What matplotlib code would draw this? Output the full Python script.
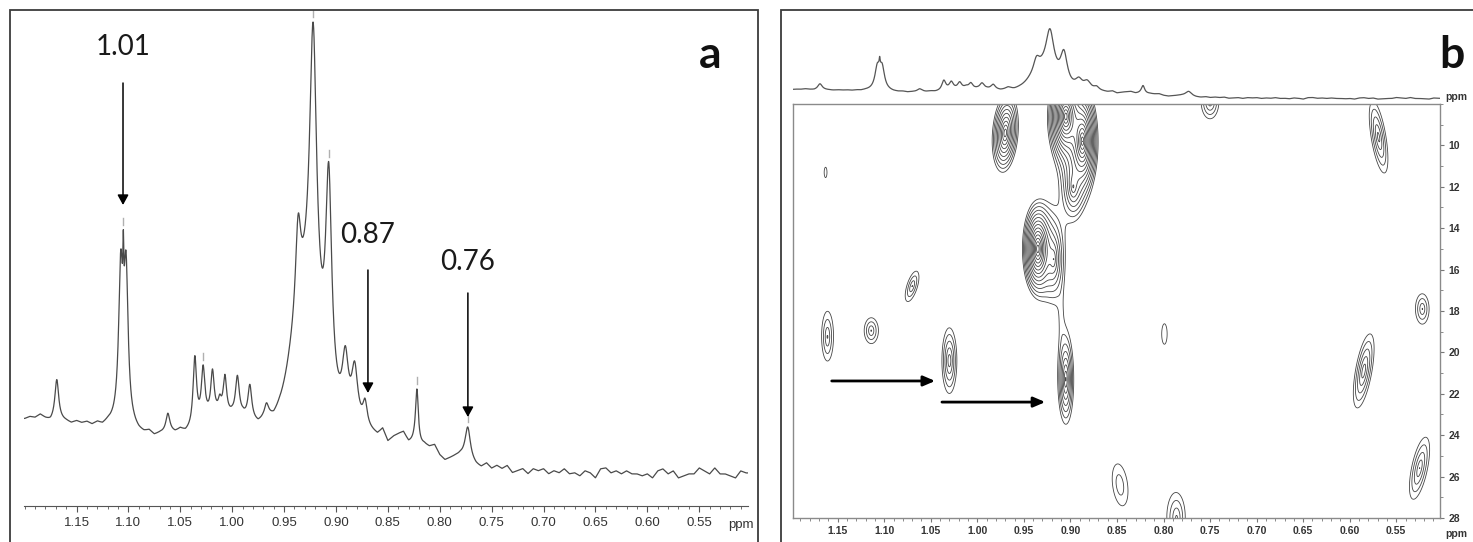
import numpy as np
import matplotlib
matplotlib.use("Agg")
import matplotlib.pyplot as plt
from matplotlib.patches import Rectangle
from matplotlib.ticker import FixedLocator, MultipleLocator

plt.rcParams['font.family'] = ['Liberation Sans', 'DejaVu Sans']

W, H, DPI = 1473, 542, 100

# --- panel a : 1H spectrum ---
# baseline level (px above axis) read every 0.005 ppm, from 1.200 down to 0.505
base_a = [87, 89, 88, 91, 87, 84, 86, 85, 84, 82,
          84, 82, 83, 80, 82, 79, 81, 80, 79, 78,
          77, 75, 72, 71, 73, 69, 71, 72, 73, 72,
          75, 72, 74, 78, 82, 85, 86, 88, 88, 87,
          88, 86, 87, 84, 82, 80, 84, 86, 84, 88,
          90, 92, 92, 92, 91, 90, 90, 88, 86, 84,
          82, 80, 78, 77, 76, 74, 72, 70, 68, 74,
          62, 67, 70, 72, 62, 62, 58, 60, 58, 60,
          50, 45, 47, 49, 50, 48, 44, 40,
          38, 42, 37, 40, 37, 40, 33, 35, 37, 32,
          37, 35, 37, 32, 35, 33, 37, 32, 33, 30,
          35, 33, 28, 37, 38, 33, 35, 32, 35, 32,
          32, 30, 32, 28, 35, 37, 32, 35, 28, 30,
          32, 32, 38, 35, 32, 38, 32, 32, 30, 28,
          35, 33]
base_ppm = 1.200 - 0.005 * np.arange(len(base_a))

# peaks: position (ppm), height, half width (ppm)
pk_ppm = [1.169, 1.1074, 1.1049, 1.1023, 1.062, 1.036, 1.028, 1.019, 1.012, 1.007,
          0.995, 0.983, 0.967, 0.9365, 0.9220, 0.9070, 0.8910, 0.8820, 0.8720, 0.822, 0.773]
pk_amp = [40, 148, 60, 148, 18, 68, 50, 44, 12, 38,
          40, 34, 12, 85, 285, 215, 59, 52, 23, 56, 32]
pk_hw = [0.0022, 0.0024, 0.0005, 0.0024, 0.0022, 0.0020, 0.0020, 0.0020, 0.0018, 0.0020,
         0.0022, 0.0022, 0.0022, 0.0030, 0.0040, 0.0035, 0.0035, 0.0035, 0.0025, 0.0017, 0.0030]
# broad hump below the 0.92 ppm group
hump_ppm, hump_amp, hump_sig = 0.929, 110, 0.012

# peak-pick marks and labelled arrows
pick_ppm = [1.1049, 1.028, 0.922, 0.907, 0.822, 0.773]
arrow_ppm = [1.1052, 0.8692, 0.7729]
arrow_tail = [423, 236, 213]
arrow_tip = [301, 113, 89]
arrow_label = ['1.01', '0.87', '0.76']
label_h = [459, 271, 244]
a_ticks = [1.15, 1.10, 1.05, 1.00, 0.95, 0.90, 0.85, 0.80, 0.75, 0.70, 0.65, 0.60, 0.55]

# --- panel b : HSQC cross peaks (1H ppm, 13C ppm, widths, level, tilt) ---
c_h = [0.970, 0.905, 0.887, 0.897, 0.935, 0.918, 0.910, 0.905, 1.163, 1.070, 1.161,
       1.114, 1.030, 0.847, 0.799, 0.786, 0.585, 0.522, 0.525, 0.750, 0.569]
c_c = [9.4, 8.6, 9.8, 12.0, 15.0, 15.5, 18.3, 21.3, 11.3, 16.8, 19.25,
       18.95, 20.4, 26.4, 19.1, 28.0, 20.9, 17.9, 25.6, 7.9, 9.6]
c_sx = [0.0063, 0.0058, 0.0052, 0.0072, 0.0052, 0.0072, 0.004, 0.0050, 0.0137, 0.0102, 0.0085,
        0.0102, 0.0073, 0.0184, 0.0189, 0.0119, 0.0101, 0.0102, 0.0118, 0.0106, 0.0097]
c_sy = [0.85, 0.70, 0.81, 0.96, 0.72, 1.2, 1.5, 1.28, 2.29, 1.02, 1.6,
        0.85, 1.44, 2.22, 3.2, 1.45, 1.62, 1.02, 1.63, 0.91, 1.67]
c_amp = [9.3, 28, 22, 4, 23, 4, 0.5, 5, 1.1, 2.0, 2.0,
         2.0, 3.0, 1.5, 1.15, 2.0, 3.0, 2.0, 2.5, 2.4, 2.8]
c_rho = [0.2, 0, 0, 0, 0, 0, 0, 0, 0, 0.6, 0,
         0, 0, -0.3, 0, 0, 0.6, 0, 0.6, 0, -0.6]
b_xticks = a_ticks
b_yticks = [10, 12, 14, 16, 18, 20, 22, 24, 26, 28]
b_arrows = [(1.1564, 1.0453, 21.38), (1.038, 0.927, 22.4)]


def fx(px):
    return px / W


def fy(py):
    return 1 - py / H


def spectrum(x, wscale=1.0, ascale=1.0):
    y = np.interp(x, base_ppm[::-1], np.array(base_a, float)[::-1])
    for p, a, w in zip(pk_ppm, pk_amp, pk_hw):
        y += ascale * a / (1 + ((x - p) / (w * wscale)) ** 2)
    y += hump_amp * np.exp(-0.5 * ((x - hump_ppm) / hump_sig) ** 2)
    return y


x_a = np.linspace(1.2006, 0.503, 4000)
spec_a = spectrum(x_a)

fig = plt.figure(figsize=(W / DPI, H / DPI), dpi=DPI)

# panel frames
fig.add_artist(Rectangle((fx(10), -0.1), fx(758) - fx(10), fy(10) + 0.1, fill=False,
                         ec='#3c3c3c', lw=1.3, transform=fig.transFigure))
fig.add_artist(Rectangle((fx(781), -0.1), fx(1490) - fx(781), fy(10) + 0.1, fill=False,
                         ec='#3c3c3c', lw=1.3, transform=fig.transFigure))

ax_a = fig.add_axes([fx(24), fy(506), fx(748) - fx(24), fy(10) - fy(506)])
ax_a.patch.set_alpha(0)
ax_a.plot(x_a, spec_a, color='#4a4a4a', lw=0.9)
for p in pick_ppm:
    v = np.interp(p, x_a[::-1], spec_a[::-1])
    ax_a.plot([p, p], [v + 5, v + 12], color='#b0b0b0', lw=1)
ax_a.set_xlim(1.2006, 0.503)
ax_a.set_ylim(0, 496)
for s in ['top', 'left', 'right']:
    ax_a.spines[s].set_visible(False)
ax_a.spines['bottom'].set_color('#555555')
ax_a.set_yticks([])
ax_a.xaxis.set_major_locator(FixedLocator(a_ticks))
ax_a.xaxis.set_minor_locator(MultipleLocator(0.01))
ax_a.set_xticklabels([f'{t:.2f}' for t in a_ticks])
ax_a.tick_params(axis='x', which='major', direction='out', length=4, width=0.8,
                 color='#555555', labelsize=9.5, labelcolor='#333333', pad=4)
ax_a.tick_params(axis='x', which='minor', direction='out', length=2.2, width=0.6,
                 color='#555555')
fig.text(fx(741), fy(525), 'ppm', fontsize=9.5, color='#333333', ha='center', va='center')

for p, t0, t1, lab, lh in zip(arrow_ppm, arrow_tail, arrow_tip, arrow_label, label_h):
    ax_a.annotate('', xy=(p, t1), xytext=(p, t0),
                  arrowprops=dict(arrowstyle='-|>,head_length=0.6,head_width=0.33',
                                  color='black', lw=1.1, shrinkA=0, shrinkB=0))
    ax_a.text(p, lh, lab, ha='center', va='center', fontsize=20,
              family=['Lato', 'DejaVu Sans'], color='#1a1a1a')
fig.text(fx(710), fy(55), 'a', fontsize=32, fontweight='bold', ha='center', va='center',
         family=['Lato', 'DejaVu Sans'], color='#111111')

# panel b: projection on top (same spectrum, lower resolution)
ax_t = fig.add_axes([fx(793), fy(104), fx(1440) - fx(793), fy(10) - fy(104)])
ax_t.plot(x_a, 0.162 * (spectrum(x_a, 1.3, 0.9) - 35) + 6, color='#555555', lw=0.9)
ax_t.set_xlim(1.198, 0.503)
ax_t.set_ylim(0, 94)
ax_t.axis('off')

# panel b: contour map
ax_c = fig.add_axes([fx(793), fy(518), fx(1440) - fx(793), fy(104) - fy(518)])
gx = np.linspace(1.198, 0.503, 1400)
gy = np.linspace(8, 28, 500)
X, Y = np.meshgrid(gx, gy)
Z = np.zeros_like(X)
for h, c, sx, sy, a, r in zip(c_h, c_c, c_sx, c_sy, c_amp, c_rho):
    u = (X - h) / sx
    v = (Y - c) / sy
    q = (u * u - 2 * r * u * v + v * v) / (1 - r * r)
    Z += a * np.exp(-np.sqrt(q))
levels = 1.0 * 1.25 ** np.arange(20)
ax_c.contour(X, Y, Z, levels=levels, colors='#454545', linewidths=0.6)
ax_c.set_xlim(1.198, 0.503)
ax_c.set_ylim(28, 8)
for s in ax_c.spines.values():
    s.set_color('#8a8a8a')
    s.set_linewidth(1)
ax_c.yaxis.tick_right()
ax_c.xaxis.set_major_locator(FixedLocator(b_xticks))
ax_c.xaxis.set_minor_locator(MultipleLocator(0.01))
ax_c.set_xticklabels([f'{t:.2f}' for t in b_xticks])
ax_c.yaxis.set_major_locator(FixedLocator(b_yticks))
ax_c.yaxis.set_minor_locator(MultipleLocator(1))
ax_c.set_yticklabels([str(t) for t in b_yticks])
ax_c.tick_params(which='major', direction='out', length=3, width=0.8, color='#777777',
                 labelsize=7.5, labelcolor='#333333', pad=3)
ax_c.tick_params(which='minor', direction='out', length=1.8, width=0.6, color='#777777')
for lab in ax_c.get_xticklabels() + ax_c.get_yticklabels():
    lab.set_fontweight('bold')
for x0, x1, yv in b_arrows:
    ax_c.annotate('', xy=(x1, yv), xytext=(x0, yv),
                  arrowprops=dict(arrowstyle='-|>,head_length=0.7,head_width=0.3',
                                  color='black', lw=2.0, shrinkA=0, shrinkB=0))
fig.text(fx(1456), fy(97), 'ppm', fontsize=7.5, fontweight='bold', color='#333333',
         ha='center', va='center')
fig.text(fx(1456), fy(534), 'ppm', fontsize=7.5, fontweight='bold', color='#333333',
         ha='center', va='center')
fig.text(fx(1452), fy(55), 'b', fontsize=32, fontweight='bold', ha='center', va='center',
         family=['Lato', 'DejaVu Sans'], color='#111111')

fig.savefig('out.png', dpi=DPI)
